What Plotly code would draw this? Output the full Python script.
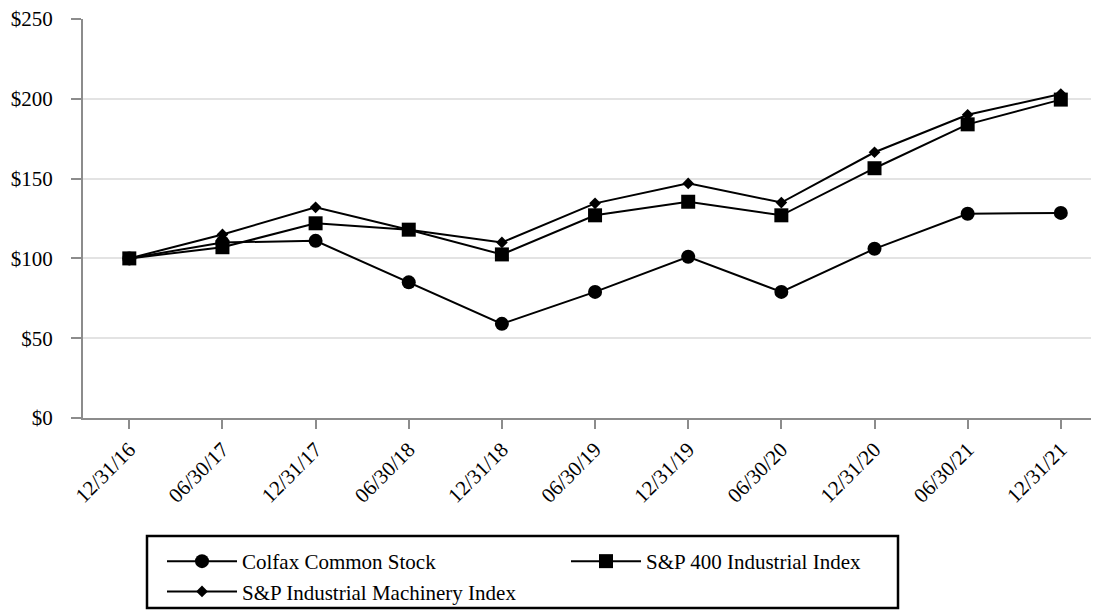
import plotly.graph_objects as go

dates = ["12/31/16", "06/30/17", "12/31/17", "06/30/18", "12/31/18", "06/30/19",
         "12/31/19", "06/30/20", "12/31/20", "06/30/21", "12/31/21"]
colfax = [100, 110, 111, 85, 59, 79, 101, 79, 106, 128, 128.5]
sp400_industrial = [100, 107, 122, 118, 102.5, 127, 135.5, 127, 156.5, 184, 199.5]
sp_machinery = [100, 115, 132, 118, 110, 134.5, 147, 135, 166.5, 190, 203]

y_ticks = [0, 50, 100, 150, 200, 250]
y_tick_labels = ["$0", "$50", "$100", "$150", "$200", "$250"]

FONT = "Liberation Serif, Times New Roman, serif"
W, H = 1099, 610
L, R, T, B = 75, 8, 11, 200

fig = go.Figure()
fig.add_trace(go.Scatter(x=dates, y=colfax, mode="lines+markers", name="Colfax Common Stock",
                         line=dict(color="black", width=2),
                         marker=dict(symbol="circle", size=14, color="black")))
fig.add_trace(go.Scatter(x=dates, y=sp400_industrial, mode="lines+markers", name="S&P 400 Industrial Index",
                         line=dict(color="black", width=2),
                         marker=dict(symbol="square", size=14, color="black")))
fig.add_trace(go.Scatter(x=dates, y=sp_machinery, mode="lines+markers", name="S&P Industrial Machinery Index",
                         line=dict(color="black", width=2),
                         marker=dict(symbol="diamond", size=9, color="black")))

pw, ph = W - L - R, H - T - B
def px_x(x):
    return (x - L) / pw
def px_y(y):
    return (H - B - y) / ph

# legend frame (figure pixel coordinates)
fig.add_shape(type="rect", xref="paper", yref="paper",
              x0=px_x(139), x1=px_x(890), y0=px_y(600), y1=px_y(528),
              line=dict(color="black", width=2.5), fillcolor="rgba(0,0,0,0)", layer="above")

fig.update_layout(
    width=W, height=H,
    margin=dict(l=L, r=R, t=T, b=B),
    paper_bgcolor="white", plot_bgcolor="white",
    font=dict(family=FONT, size=21, color="black"),
    showlegend=True,
    legend=dict(
        orientation="h", xref="container", yref="container",
        x=154/W, y=1-533/H, xanchor="left", yanchor="top",
        entrywidth=319, entrywidthmode="pixels",
        borderwidth=0, bgcolor="rgba(0,0,0,0)",
        font=dict(family=FONT, size=21, color="black"),
        tracegroupgap=0, itemwidth=70,
    ),
    xaxis=dict(
        type="category", range=[-0.497, 10.41], tickangle=-45, automargin=False,
        showline=True, linecolor="#8c8c8c", linewidth=2,
        ticks="outside", ticklen=9, tickcolor="#8c8c8c", tickwidth=2,
        ticklabeloverflow="allow",
        showgrid=False, tickfont=dict(family=FONT, size=21, color="black"),
    ),
    yaxis=dict(
        range=[0, 250], tickvals=y_ticks, ticktext=y_tick_labels, automargin=False,
        showline=True, linecolor="#8c8c8c", linewidth=2,
        ticks="outside", ticklen=10, tickcolor="#8c8c8c", tickwidth=2,
        ticklabelstandoff=14, ticklabeloverflow="allow",
        showgrid=True, gridcolor="#e3e3e3", gridwidth=2, zeroline=False,
        tickfont=dict(family=FONT, size=21, color="black"),
    ),
)

fig.write_html("out.html")
